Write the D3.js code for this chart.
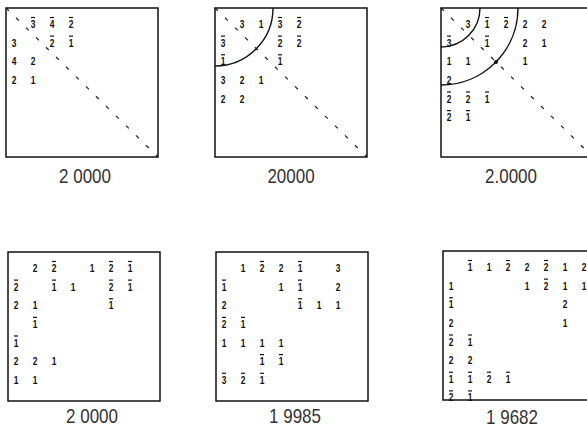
<!DOCTYPE html>
<html>
<head>
<meta charset="utf-8">
<script src="https://cdn.jsdelivr.net/npm/d3@7/dist/d3.min.js"></script>
<style>
  html, body { margin: 0; padding: 0; background: #fff; }
  svg { display: block; }
</style>
</head>
<body>
<div id="chart"></div>
<script>
// values, 0 = empty cell, negative = barred digit
const labels = ["2 0000", "20000", "2.0000", "2 0000", "1 9985", "1 9682"];

const m1 = [
  [0, -3, -4, -2],
  [3, 0, -2, -1],
  [4, 2],
  [2, 1]
];
const m2 = [
  [0, 3, 1, -3, -2],
  [-3, 0, 0, -2, -2],
  [-1, 0, 0, -1],
  [3, 2, 1],
  [2, 2]
];
const m3 = [
  [0, 3, -1, -2, 2, 2],
  [-3, 0, -1, 0, 2, 1],
  [1, 1, 0, 0, 1],
  [2],
  [-2, -2, -1],
  [-2, -1]
];
const m4 = [
  [0, 2, -2, 0, 1, -2, -1],
  [-2, 0, -1, 1, 0, -2, -1],
  [2, 1, 0, 0, 0, -1],
  [0, -1],
  [-1],
  [2, 2, 1],
  [1, 1]
];
const m5 = [
  [0, 1, -2, 2, -1, 0, 3],
  [-1, 0, 0, 1, -1, 0, 2],
  [2, 0, 0, 0, -1, 1, 1],
  [-2, -1],
  [1, 1, 1, 1],
  [0, 0, -1, -1],
  [-3, -2, -1]
];
const m6 = [
  [0, -1, 1, -2, 2, -2, 1, 2],
  [1, 0, 0, 0, 1, -2, 1, 1],
  [-1, 0, 0, 0, 0, 0, 2],
  [2, 0, 0, 0, 0, 0, 1],
  [-2, -1],
  [2, 2],
  [-1, -1, -2, -1],
  [-2, -1]
];
const matrices = [m1, m2, m3, m4, m5, m6];
// quarter-circle radii (in cells) drawn from the top-left corner
const arcCells = [[], [3], [2, 4], [], [], []];
const hasDiagonal = [true, true, true, false, false, false];
const dotOnArc = [null, null, 4, null, null, null];

// layout
const W = 587, H = 427;
const boxW = 152, boxH = 149;
const lefts = [6, 215, 441, 8, 216, 443];
const tops = [8, 8, 8, 252, 252, 251];
const labelDx = [79, 76, 70, 84, 79, 69];
const labelY = [183, 183, 183, 423, 423, 424];

const cellX = d3.scaleLinear().domain([0, 8]).range([0, boxW]);
const cellY = d3.scaleLinear().domain([0, 8]).range([0, boxH]);

const svg = d3.select("#chart").append("svg")
  .attr("width", W)
  .attr("height", H);

svg.append("rect").attr("width", W).attr("height", H).attr("fill", "#fff");

matrices.forEach(function (m, p) {
  const g = svg.append("g")
    .attr("class", "panel")
    .attr("transform", `translate(${lefts[p]},${tops[p]})`);

  if (hasDiagonal[p]) {
    g.append("line")
      .attr("x1", 0).attr("y1", 0)
      .attr("x2", boxW).attr("y2", boxH)
      .attr("stroke", "#222")
      .attr("stroke-width", 1.2)
      .attr("stroke-dasharray", "4,10");
  }

  // arcs around the top-left block
  arcCells[p].forEach(function (k) {
    const r = cellX(k) + 1;
    g.append("path")
      .attr("d", `M${r},0 A${r},${r} 0 0,1 0,${r}`)
      .attr("fill", "none")
      .attr("stroke", "#111")
      .attr("stroke-width", 1.4);
  });
  if (dotOnArc[p] != null) {
    const r = cellX(dotOnArc[p]) + 1;
    const a = Math.atan2(boxH, boxW);
    g.append("circle")
      .attr("cx", r * Math.cos(a))
      .attr("cy", r * Math.sin(a))
      .attr("r", 2)
      .attr("fill", "#111");
  }

  // cells
  const cells = [];
  m.forEach(function (row, r) {
    row.forEach(function (v, c) {
      if (v !== 0) cells.push({ r: r, c: c, v: v });
    });
  });

  const cell = g.selectAll(".cell")
    .data(cells)
    .enter()
    .append("g")
    .attr("class", "cell")
    .attr("transform", d => `translate(${cellX(d.c) + 8},${cellY(d.r) + 16})`);

  cell.append("text")
    .attr("x", 0)
    .attr("y", 4)
    .attr("transform", "scale(0.8,1)")
    .attr("text-anchor", "middle")
    .attr("font-family", "Liberation Sans, Arial, sans-serif")
    .attr("font-weight", "bold")
    .attr("font-size", "10.5px")
    .attr("fill", "#111")
    .text(d => Math.abs(d.v));

  cell.filter(d => d.v < 0)
    .append("line")
    .attr("x1", -2).attr("x2", 2)
    .attr("y1", -6.5).attr("y2", -6.5)
    .attr("stroke", "#111")
    .attr("stroke-width", 1.2);

  // frame
  g.append("rect")
    .attr("x", 0).attr("y", 0)
    .attr("width", boxW).attr("height", boxH)
    .attr("fill", "none")
    .attr("stroke", "#111")
    .attr("stroke-width", 1.5);

  const lx = lefts[p] + labelDx[p];
  svg.append("text")
    .attr("transform", `translate(${lx},${labelY[p]}) scale(0.85,1)`)
    .attr("text-anchor", "middle")
    .attr("font-family", "Liberation Sans, Arial, sans-serif")
    .attr("font-size", "20px")
    .attr("fill", "#333")
    .text(labels[p]);
});
</script>
</body>
</html>
